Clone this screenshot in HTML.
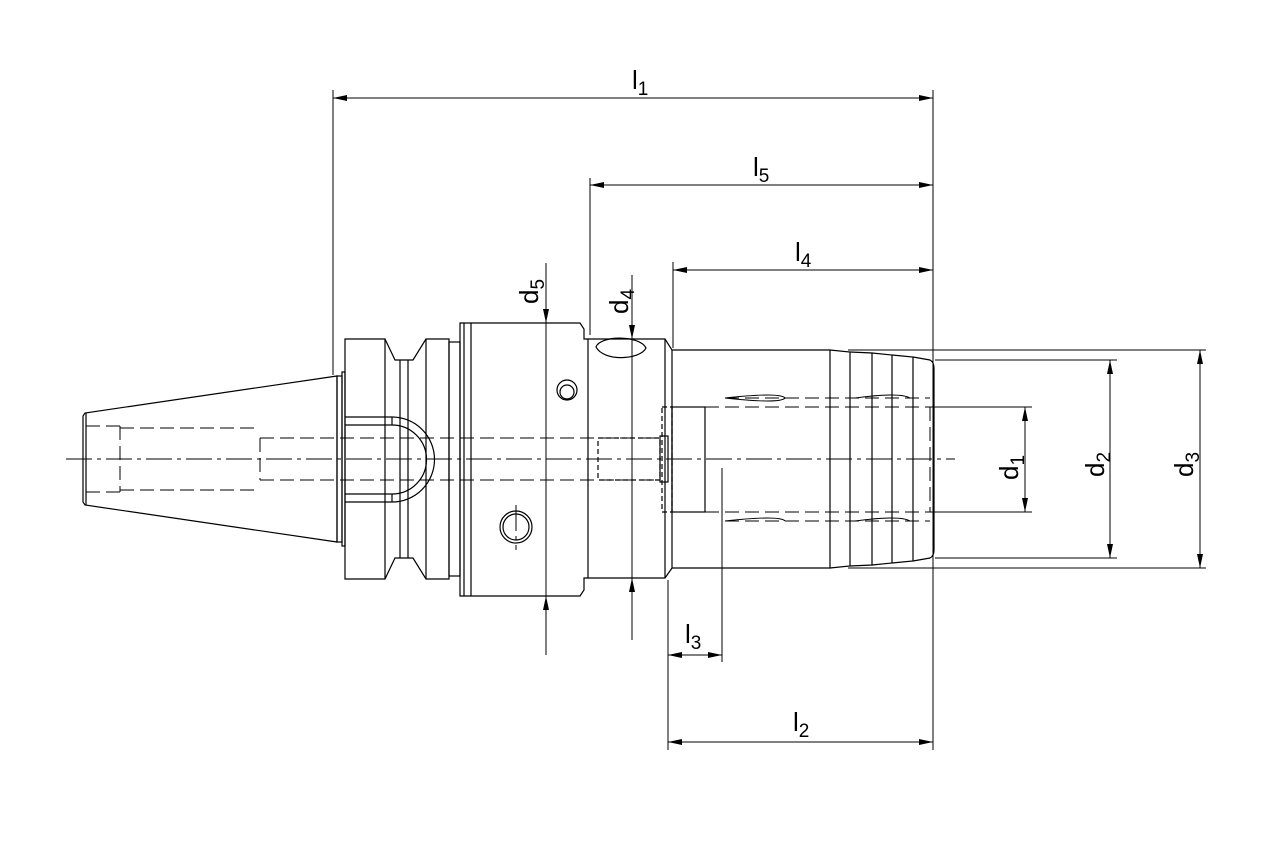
<!DOCTYPE html>
<html><head><meta charset="utf-8"><style>html,body{margin:0;background:#fff}svg{display:block}</style></head><body>
<svg width="1280" height="853" viewBox="0 0 1280 853" xmlns="http://www.w3.org/2000/svg" font-family="Liberation Sans, sans-serif">
<defs>
<marker id="a" viewBox="0 0 14 6" refX="14" refY="3" markerWidth="14" markerHeight="6" orient="auto-start-reverse" markerUnits="userSpaceOnUse"><path d="M0,0L14,3L0,6z" fill="#000"/></marker>
</defs>
<g fill="none" stroke="#000" stroke-width="1.2">
<path d="M83,416 L83,502 L85,505 L337,542 L337,376 L85,413 Z"/>
<line x1="86" y1="413" x2="86" y2="505"/>
<rect x="337" y="376" width="5" height="166"/>
<rect x="342" y="372" width="3" height="174"/>
<path d="M345,339 L385,339 L395,360 L413,360 L426,339 L449,339 L449,579 L426,579 L413,558 L395,558 L385,579 L345,579 Z"/>
<line x1="385" y1="339" x2="385" y2="579"/>
<line x1="426" y1="339" x2="426" y2="579"/>
<line x1="400" y1="360" x2="400" y2="558"/><line x1="408" y1="360" x2="408" y2="558"/>
<rect x="449" y="342" width="11" height="234"/>
<path d="M345,417 L392,417 A42,42 0 0 1 392,502 L345,502"/>
<path d="M345,425 L392,425 A34,34 0 0 1 392,494 L345,494"/>
<line x1="392" y1="417" x2="392" y2="425"/><line x1="392" y1="494" x2="392" y2="502"/>
<path d="M460,323 L580,323 L584,329 L584,339 L588,339 L588,578 L584,578 L584,590 L580,596 L460,596 Z"/>
<line x1="471" y1="323" x2="471" y2="596"/>
<line x1="464" y1="323" x2="464" y2="596"/>
<circle cx="567" cy="390" r="10"/><circle cx="567" cy="392" r="7"/>
<circle cx="516" cy="527" r="16"/><circle cx="516" cy="527" r="13"/>
<path d="M588,339 L665,339 L672,350 L672,568 L665,578 L588,578"/>
<line x1="665" y1="339" x2="665" y2="578"/>
<path d="M596,347 C600,335 640,335 646,348 C640,360 604,362 596,347 Z"/>
<path d="M672,350 L830,350 L830,568 L672,568"/>
<path d="M830,350 L850,352 L850,566 L830,568"/>
<path d="M850,352 L872,353 L872,565 L850,566"/>
<path d="M872,353 L892,355 L892,563 L872,565"/>
<path d="M892,355 L913,357 L913,561 L892,563"/>
<path d="M913,357 L930,360 Q934,362 934,368 L934,550 Q934,556 930,558 L913,561"/>
<rect x="672" y="407" width="33" height="105"/>
<rect x="662" y="407" width="10" height="105" stroke-dasharray="5,3"/>
<rect x="598" y="438" width="62" height="42" stroke-dasharray="5,3"/>
<rect x="660" y="436" width="8" height="46"/>
<!-- slot arcs -->
<path d="M725,398 Q780,392 785,398 Q780,404 725,398" stroke-width="1"/>
<path d="M855,398 Q900,392 910,398" stroke-width="1"/>
<path d="M725,521 Q780,515 785,521" stroke-width="1"/>
<path d="M855,521 Q900,515 910,521" stroke-width="1"/>
</g>
<g fill="none" stroke="#000" stroke-width="1" stroke-dasharray="14,6">
<line x1="705" y1="407" x2="935" y2="407"/><line x1="705" y1="512" x2="935" y2="512"/>
<line x1="725" y1="398" x2="930" y2="398"/><line x1="725" y1="521" x2="930" y2="521"/>
<line x1="86" y1="426" x2="120" y2="426"/><line x1="86" y1="492" x2="120" y2="492"/>
<line x1="120" y1="428" x2="260" y2="428"/><line x1="120" y1="490" x2="260" y2="490"/>
<line x1="120" y1="426" x2="120" y2="492"/>
<line x1="260" y1="438" x2="660" y2="438"/><line x1="260" y1="480" x2="660" y2="480"/>
<line x1="260" y1="438" x2="260" y2="480"/>
<line x1="930" y1="407" x2="930" y2="512"/>
</g>
<g stroke="#000" stroke-width="1" stroke-dasharray="26,5,4,5">
<line x1="66" y1="459" x2="955" y2="459"/>
<line x1="516" y1="505" x2="516" y2="550"/>
</g>
<g stroke="#000" stroke-width="1">
<line x1="333" y1="90" x2="333" y2="375"/>
<line x1="590" y1="178" x2="590" y2="335"/>
<line x1="673" y1="262" x2="673" y2="348"/>
<line x1="933" y1="90" x2="933" y2="750"/>
<line x1="668" y1="580" x2="668" y2="750"/>
<line x1="722" y1="468" x2="722" y2="662"/>
<line x1="935" y1="407" x2="1032" y2="407"/><line x1="935" y1="512" x2="1032" y2="512"/>
<line x1="935" y1="360" x2="1117" y2="360"/><line x1="935" y1="558" x2="1117" y2="558"/>
<line x1="848" y1="350" x2="1206" y2="350"/><line x1="848" y1="568" x2="1206" y2="568"/>
<line x1="333" y1="98" x2="933" y2="98" marker-start="url(#a)" marker-end="url(#a)"/>
<line x1="590" y1="185" x2="933" y2="185" marker-start="url(#a)" marker-end="url(#a)"/>
<line x1="673" y1="270" x2="933" y2="270" marker-start="url(#a)" marker-end="url(#a)"/>
<line x1="668" y1="655" x2="722" y2="655" marker-start="url(#a)" marker-end="url(#a)"/>
<line x1="668" y1="742" x2="933" y2="742" marker-start="url(#a)" marker-end="url(#a)"/>
<line x1="1025" y1="407" x2="1025" y2="512" marker-start="url(#a)" marker-end="url(#a)"/>
<line x1="1110" y1="360" x2="1110" y2="558" marker-start="url(#a)" marker-end="url(#a)"/>
<line x1="1200" y1="350" x2="1200" y2="568" marker-start="url(#a)" marker-end="url(#a)"/>
<line x1="546" y1="263" x2="546" y2="323" marker-end="url(#a)"/>
<line x1="546" y1="323" x2="546" y2="596"/>
<line x1="546" y1="655" x2="546" y2="596" marker-end="url(#a)"/>
<line x1="632" y1="275" x2="632" y2="339" marker-end="url(#a)"/>
<line x1="632" y1="339" x2="632" y2="578"/>
<line x1="632" y1="640" x2="632" y2="578" marker-end="url(#a)"/>
</g>
<g font-size="26" fill="#000">
<text x="632" y="89">l<tspan font-size="19" dy="6">1</tspan></text>
<text x="753" y="176">l<tspan font-size="19" dy="6">5</tspan></text>
<text x="795" y="261">l<tspan font-size="19" dy="6">4</tspan></text>
<text x="685" y="643">l<tspan font-size="19" dy="6">3</tspan></text>
<text x="793" y="731">l<tspan font-size="19" dy="6">2</tspan></text>
<text transform="translate(538,304) rotate(-90)">d<tspan font-size="19" dy="6">5</tspan></text>
<text transform="translate(628,314) rotate(-90)">d<tspan font-size="19" dy="6">4</tspan></text>
<text transform="translate(1018,480) rotate(-90)">d<tspan font-size="19" dy="6">1</tspan></text>
<text transform="translate(1104,477) rotate(-90)">d<tspan font-size="19" dy="6">2</tspan></text>
<text transform="translate(1193,477) rotate(-90)">d<tspan font-size="19" dy="6">3</tspan></text>
</g>
</svg>
</body></html>
